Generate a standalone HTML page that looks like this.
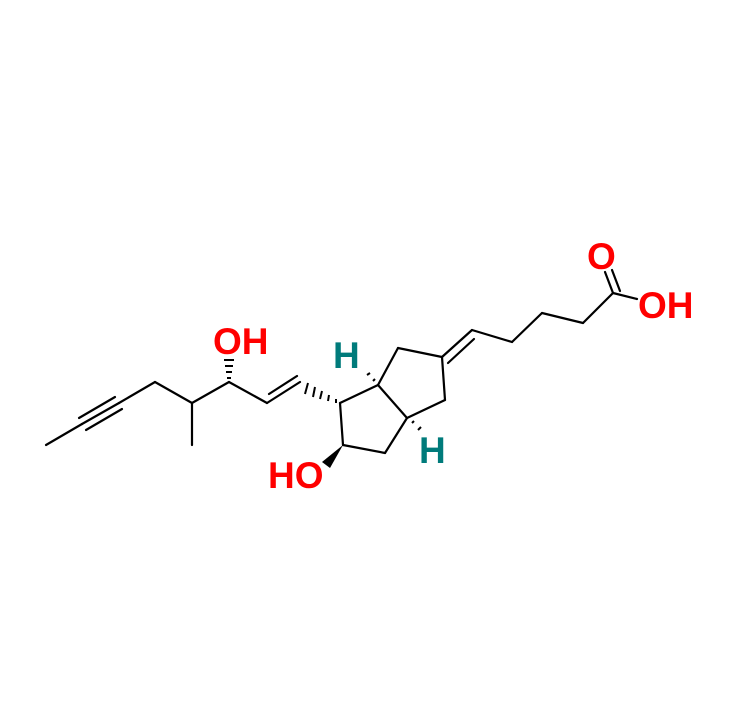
<!DOCTYPE html><html><head><style>body{margin:0;background:#fff}svg{display:block}</style></head><body>
<svg width="740" height="724" viewBox="0 0 740 724" xmlns="http://www.w3.org/2000/svg">
<g stroke="#000" stroke-width="2.2" fill="none" stroke-linecap="round">
<line x1="46" y1="445" x2="82" y2="424"/>
<line x1="82" y1="424" x2="119" y2="403"/>
<line x1="79" y1="418" x2="115" y2="397"/>
<line x1="86" y1="430" x2="122" y2="409"/>
<line x1="119" y1="403" x2="155" y2="382"/>
<line x1="155" y1="382" x2="192" y2="403"/>
<line x1="192" y1="403" x2="192" y2="445"/>
<line x1="192" y1="403" x2="229" y2="382"/>
<line x1="229" y1="382" x2="267" y2="403"/>
<line x1="267" y1="403" x2="300" y2="382"/>
<line x1="269" y1="394" x2="297" y2="376"/>
<line x1="340" y1="403" x2="378" y2="385"/>
<line x1="340" y1="403" x2="343" y2="445"/>
<line x1="343" y1="445" x2="385" y2="453"/>
<line x1="385" y1="453" x2="407" y2="418"/>
<line x1="407" y1="418" x2="378" y2="385"/>
<line x1="378" y1="385" x2="398" y2="348"/>
<line x1="398" y1="348" x2="442" y2="357"/>
<line x1="442" y1="357" x2="445" y2="400"/>
<line x1="445" y1="400" x2="407" y2="418"/>
<line x1="442" y1="357" x2="472" y2="330"/>
<line x1="448" y1="363" x2="474" y2="339"/>
<line x1="472" y1="330" x2="512" y2="342"/>
<line x1="512" y1="342" x2="542" y2="313"/>
<line x1="542" y1="313" x2="583" y2="323"/>
<line x1="583" y1="323" x2="613" y2="293"/>
<line x1="613" y1="293" x2="637" y2="299"/>
<line x1="613" y1="293" x2="605" y2="272"/>
<line x1="620" y1="291" x2="612" y2="270"/>
</g>
<g stroke="#000" stroke-width="2">
<line x1="227" y1="378" x2="231" y2="378"/><line x1="226" y1="372" x2="232" y2="372"/><line x1="225" y1="366" x2="233" y2="366"/><line x1="224" y1="360" x2="234" y2="360"/>
<line x1="336" y1="399" x2="336" y2="403"/><line x1="329" y1="395" x2="328" y2="401"/><line x1="322" y1="391" x2="320" y2="399"/><line x1="315" y1="387" x2="313" y2="397"/><line x1="308" y1="383" x2="305" y2="394"/>
<line x1="373" y1="381" x2="375" y2="379"/><line x1="367" y1="375" x2="370" y2="373"/>
<line x1="412" y1="423" x2="414" y2="421"/><line x1="418" y1="430" x2="421" y2="427"/>
</g>
<polygon points="343,445 322,462 330,468" fill="#000"/>
<g font-family="Liberation Sans, sans-serif" font-weight="bold" font-size="37">
<text x="213" y="354" fill="#f00">OH</text>
<text x="268" y="488" fill="#f00">HO</text>
<text x="587" y="269" fill="#f00">O</text>
<text x="638" y="318" fill="#f00">OH</text>
<text x="333" y="368" fill="#007b7b">H</text>
<text x="419" y="463" fill="#007b7b">H</text>
</g>
</svg></body></html>
